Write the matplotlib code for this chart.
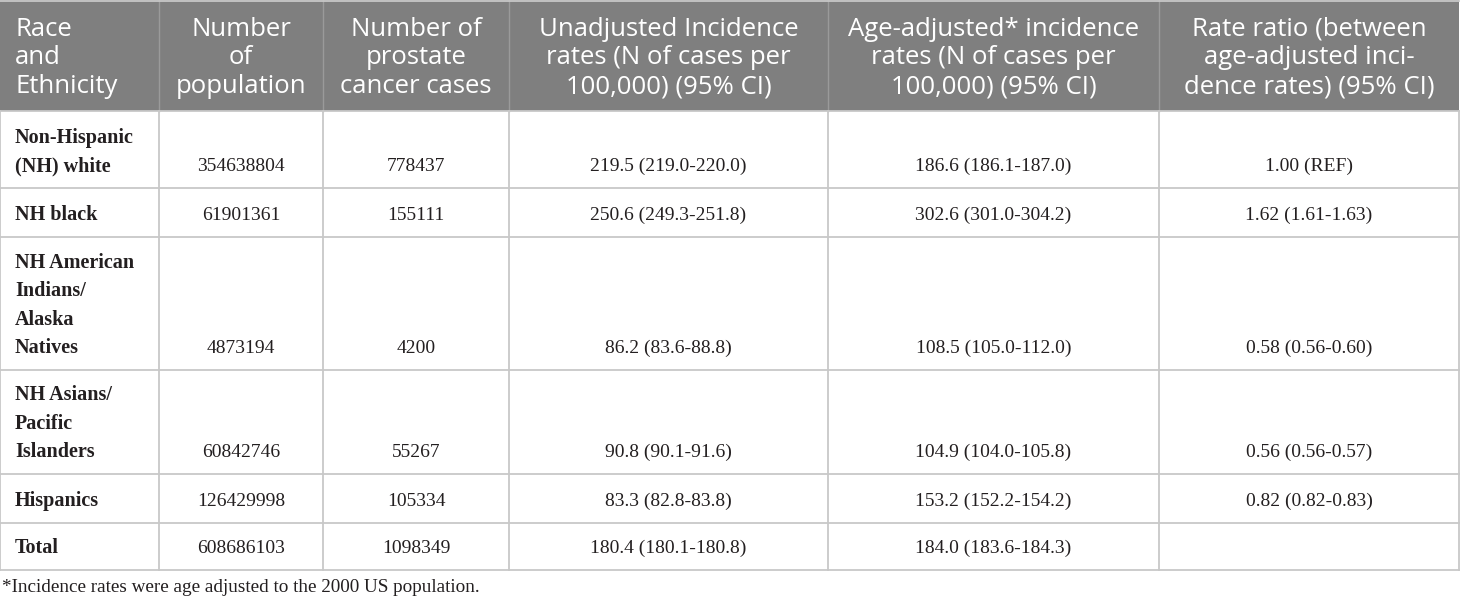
import matplotlib.pyplot as plt
from matplotlib.patches import Rectangle

# table content
headers = ['Race\nand\nEthnicity', 'Number\nof\npopulation', 'Number of\nprostate\ncancer cases',
           'Unadjusted Incidence\nrates (N of cases per\n100,000) (95% CI)',
           'Age-adjusted* incidence\nrates (N of cases per\n100,000) (95% CI)',
           'Rate ratio (between\nage-adjusted inci-\ndence rates) (95% CI)']
groups = ['Non-Hispanic\n(NH) white', 'NH black', 'NH American\nIndians/\nAlaska\nNatives',
          'NH Asians/\nPacific\nIslanders', 'Hispanics', 'Total']
population = ['354638804', '61901361', '4873194', '60842746', '126429998', '608686103']
cases = ['778437', '155111', '4200', '55267', '105334', '1098349']
unadjusted = ['219.5 (219.0-220.0)', '250.6 (249.3-251.8)', '86.2 (83.6-88.8)',
              '90.8 (90.1-91.6)', '83.3 (82.8-83.8)', '180.4 (180.1-180.8)']
age_adjusted = ['186.6 (186.1-187.0)', '302.6 (301.0-304.2)', '108.5 (105.0-112.0)',
                '104.9 (104.0-105.8)', '153.2 (152.2-154.2)', '184.0 (183.6-184.3)']
rate_ratio = ['1.00 (REF)', '1.62 (1.61-1.63)', '0.58 (0.56-0.60)',
              '0.56 (0.56-0.57)', '0.82 (0.82-0.83)', '']
footnote = '*Incidence rates were age adjusted to the 2000 US population.'

W, H = 1460, 602
col_x = [0, 159, 323, 509, 828, 1159, 1459]
row_y = [0, 111, 188, 237, 370, 474, 523, 570]
grid = '#c8c8c8'
head_bg = '#7f7f7f'

fig = plt.figure(figsize=(W / 100, H / 100), dpi=100)
ax = fig.add_axes([0, 0, 1, 1])
ax.set_xlim(0, W)
ax.set_ylim(H, 0)
ax.axis('off')

# header
ax.add_patch(Rectangle((col_x[0], row_y[0]), col_x[-1] - col_x[0], row_y[1] - row_y[0],
                       facecolor=head_bg, edgecolor='none'))
for i, h in enumerate(headers):
    if i == 0:
        ax.text(col_x[0] + 15, 58, h, ha='left', va='center', color='white',
                family='Open Sans', fontsize=18.5, linespacing=1.19)
    else:
        ax.text((col_x[i] + col_x[i + 1]) / 2, 58, h, ha='center', va='center', color='white',
                family='Open Sans', fontsize=18.5, linespacing=1.19, multialignment='center')
for x in col_x[1:-1]:
    ax.plot([x, x], [row_y[0], row_y[1]], color='#9a9a9a', lw=1)
ax.plot([col_x[0], col_x[-1]], [0.5, 0.5], color=grid, lw=1.3)

# body grid
for y in row_y[1:]:
    ax.plot([col_x[0], col_x[-1]], [y, y], color=grid, lw=1.3)
for x in col_x:
    ax.plot([x, x], [row_y[1], row_y[-1]], color=grid, lw=1.3)

columns = [population, cases, unadjusted, age_adjusted, rate_ratio]
for r, g in enumerate(groups):
    base = row_y[r + 2] - 17
    ax.text(col_x[0] + 15, base, g, ha='left', va='baseline', fontweight='bold',
            family='Liberation Serif', fontsize=14.5, linespacing=1.56, color='#231f20')
    for c, vals in enumerate(columns):
        ax.text((col_x[c + 1] + col_x[c + 2]) / 2, base, vals[r], ha='center', va='baseline',
                family='Liberation Serif', fontsize=14, color='#231f20')

ax.text(2, 592, footnote, ha='left', va='baseline', family='Liberation Serif',
        fontsize=13.8, color='#231f20')

fig.savefig('out.png', dpi=100)
